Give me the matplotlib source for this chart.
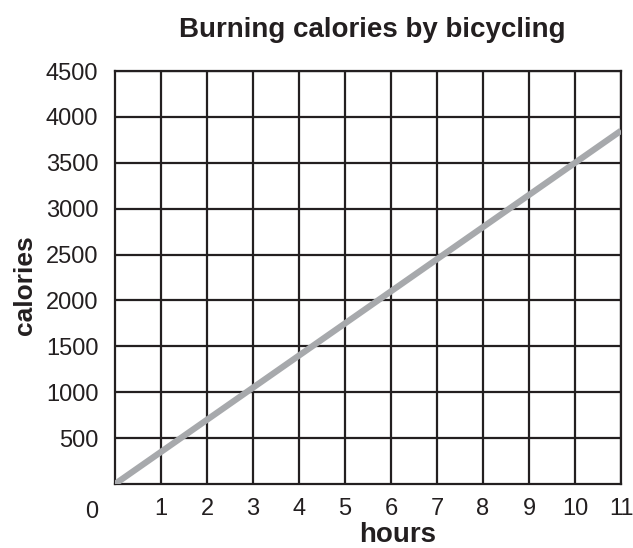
import matplotlib
matplotlib.use("Agg")
import matplotlib.pyplot as plt

hours = [0, 1, 2, 3, 4, 5, 6, 7, 8, 9, 10, 11]
calories = [0, 350, 700, 1050, 1400, 1750, 2100, 2450, 2800, 3150, 3500, 3850]
x_ticks = [1, 2, 3, 4, 5, 6, 7, 8, 9, 10, 11]
y_ticks = [500, 1000, 1500, 2000, 2500, 3000, 3500, 4000, 4500]

plt.rcParams['font.family'] = ['Liberation Sans', 'DejaVu Sans']
ink = '#231f20'
W, H = 633, 548

fig = plt.figure(figsize=(6.33, 5.48), dpi=100)
ax = fig.add_axes([0.1817, 0.1168, 0.7994, 0.7536])
ax.set_xlim(0, 11)
ax.set_ylim(0, 4500)
ax.grid(True, color=ink, linewidth=1.6)
ax.set_axisbelow(True)
for s in ax.spines.values():
    s.set_color(ink)
    s.set_linewidth(1.6)
ax.set_xticks(x_ticks, [str(v) for v in x_ticks])
ax.set_yticks(y_ticks, [str(v) for v in y_ticks])
ax.tick_params(axis='both', length=0, labelsize=17, colors=ink)
ax.tick_params(axis='x', pad=10)
ax.tick_params(axis='y', pad=12)
ax.plot(hours, calories, color='#a7a9ac', linewidth=4.5, solid_capstyle='butt', zorder=3)
fig.text(92 / W, 1 - 512 / H, '0', ha='center', va='center', fontsize=17, color=ink)
fig.text(398 / W, 1 - 535 / H, 'hours', ha='center', va='center', fontsize=20, fontweight='bold', color=ink)
fig.text(25 / W, 1 - 285 / H, 'calories', ha='center', va='center', rotation=90, fontsize=19, fontweight='bold', color=ink)
fig.text(372 / W, 1 - 30 / H, 'Burning calories by bicycling', ha='center', va='center', fontsize=20, fontweight='bold', color=ink)
fig.savefig('out.png', dpi=100)
